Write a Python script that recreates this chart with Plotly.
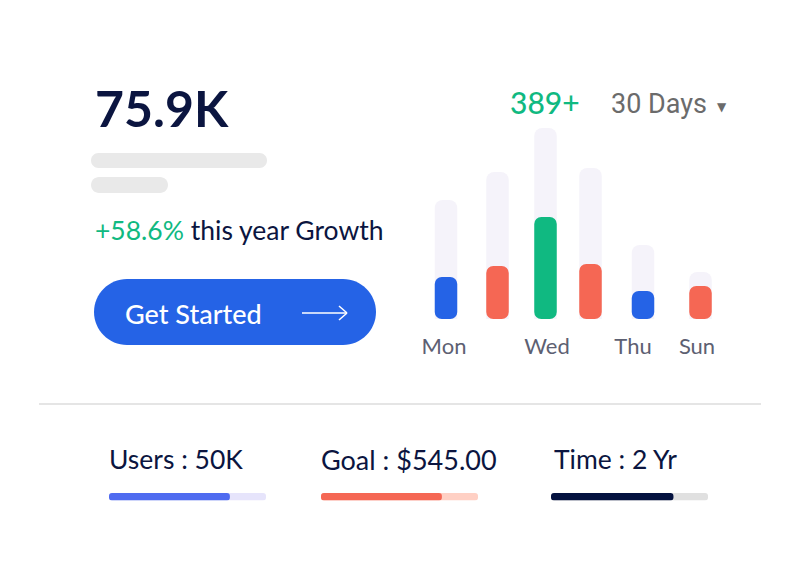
import plotly.graph_objects as go

# weekly bars
bar_slots = [446, 497.5, 545.5, 590.5, 643, 700.5]
bar_totals = [119, 147, 191, 151, 74, 47]
bar_values = [42, 53, 102, 55, 28, 33]
bar_colors = ["#2563E6", "#F56754", "#10B981", "#F56754", "#2563E6", "#F56754"]

day_ticks = [444, 547, 633, 697]
day_labels = ["Mon", "Wed", "Thu", "Sun"]

# progress rows at the bottom
stat_labels = ["Users : 50K", "Goal : $545.00", "Time : 2 Yr"]
stat_values = [77, 77, 78]
stat_fill = ["#4F6BF0", "#F56754", "#04123F"]
stat_track = ["#E6E4FB", "#FFD0C4", "#E0E0E0"]

W, H = 800, 568
NAVY = "#0B1540"
GREEN = "#10B981"
FONT = "Lato"


def px(x):
    return x / W


def py(y):
    return 1 - y / H


def pill(x0, y0, x1, y1, color):
    # rounded rectangle in picture pixels
    r = (y1 - y0) / 2
    k = r * 0.45
    pts = [
        ("M", x0 + r, y0), ("L", x1 - r, y0),
        ("C", x1 - k, y0, x1, y0 + k, x1, y0 + r),
        ("C", x1, y1 - k, x1 - k, y1, x1 - r, y1),
        ("L", x0 + r, y1),
        ("C", x0 + k, y1, x0, y1 - k, x0, y0 + r),
        ("C", x0, y0 + k, x0 + k, y0, x0 + r, y0),
    ]
    path = ""
    for p in pts:
        nums = p[1:]
        coords = [f"{px(nums[i]):.5f},{py(nums[i + 1]):.5f}" for i in range(0, len(nums), 2)]
        path += p[0] + " ".join(coords) + " "
    return dict(type="path", xref="paper", yref="paper", path=path + "Z",
                fillcolor=color, line_width=0, layer="below")


def seg(x0, y0, x1, y1, color, width):
    return dict(type="line", xref="paper", yref="paper", x0=px(x0), y0=py(y0), x1=px(x1), y1=py(y1),
                line=dict(color=color, width=width))


def label(x, y, text, size, color, anchor="left", family=FONT, weight=400):
    return dict(xref="paper", yref="paper", x=px(x), y=py(y), text=text, showarrow=False,
                xanchor=anchor, yanchor="middle", borderpad=0,
                font=dict(family=family, size=size, color=color, weight=weight))


fig = go.Figure()

# backdrop and filled bars, an explicit base rounds all four corners
fig.add_trace(go.Bar(x=bar_slots, y=bar_totals, width=22.5, xaxis="x", yaxis="y",
                     marker=dict(color="#F5F3FA", cornerradius=8, line_width=0),
                     cliponaxis=False, hoverinfo="skip"))
fig.add_trace(go.Bar(x=bar_slots, y=bar_values, base=0, width=22.5, xaxis="x", yaxis="y",
                     marker=dict(color=bar_colors, cornerradius=7, line_width=0),
                     cliponaxis=False))

stat_boxes = [(109, 266), (321, 478), (551, 708)]
for i in range(3):
    n = str(i + 2)
    fig.add_trace(go.Bar(x=[100], y=[0], base=0, orientation="h", width=1, xaxis="x" + n, yaxis="y" + n,
                         marker=dict(color=stat_track[i], cornerradius=4, line_width=0),
                         cliponaxis=False, hoverinfo="skip"))
    fig.add_trace(go.Bar(x=[stat_values[i]], y=[0], base=0, orientation="h", width=1, xaxis="x" + n, yaxis="y" + n,
                         marker=dict(color=stat_fill[i], cornerradius=4, line_width=0),
                         cliponaxis=False))

layout = dict(
    width=W, height=H, margin=dict(l=0, r=0, t=0, b=0),
    paper_bgcolor="white", plot_bgcolor="rgba(0,0,0,0)",
    barmode="overlay", showlegend=False,
    xaxis=dict(domain=[px(410), px(730)], range=[410, 730], showgrid=False, zeroline=False,
               showline=False, tickmode="array", tickvals=day_ticks, ticktext=day_labels,
               ticks="", ticklabelstandoff=12,
               tickfont=dict(family=FONT, size=22, color="#5D6072")),
    yaxis=dict(domain=[py(319), py(120)], range=[0, 199], visible=False),
)
for i, (x0, x1) in enumerate(stat_boxes):
    n = str(i + 2)
    layout["xaxis" + n] = dict(domain=[px(x0), px(x1)], range=[0, 100], visible=False, anchor="y" + n)
    layout["yaxis" + n] = dict(domain=[py(500.5), py(493)], range=[-0.5, 0.5], visible=False, anchor="x" + n)
fig.update_layout(**layout)

fig.update_layout(
    shapes=[
        pill(91, 153, 267, 168, "#E9E9E9"),
        pill(91, 177, 168, 193, "#E9E9E9"),
        pill(94, 279, 376, 345, "#2563E6"),
        seg(302, 313, 347, 313, "white", 1.5),
        seg(339, 306, 347, 313, "white", 1.5),
        seg(339, 320, 347, 313, "white", 1.5),
        seg(39, 404, 761, 404, "#DCDCDC", 1.5),
    ],
    annotations=[
        label(94, 108, "75.9K", 50, NAVY, weight=700),
        label(94, 230, f"<span style='color:{GREEN}'>+58.6%</span> this year Growth", 26.5, NAVY),
        label(124, 313, "Get Started", 27, "white", weight=500),
        label(509, 102, "389+", 30, GREEN, weight=500),
        label(610, 104, "30 Days", 27, "#6B6B6B", family="Roboto"),
        label(722, 107, "▼", 12, "#6B6B6B", anchor="center", family="DejaVu Sans"),
        label(108, 459, stat_labels[0], 26.5, NAVY),
        label(320, 459, stat_labels[1], 27, NAVY),
        label(553, 459, stat_labels[2], 26.5, NAVY),
    ],
)

# the page's default body margin would push the figure off the 800x568 window
fig.write_html("out.html", config=dict(displayModeBar=False),
               post_script="document.body.style.margin='0';")
